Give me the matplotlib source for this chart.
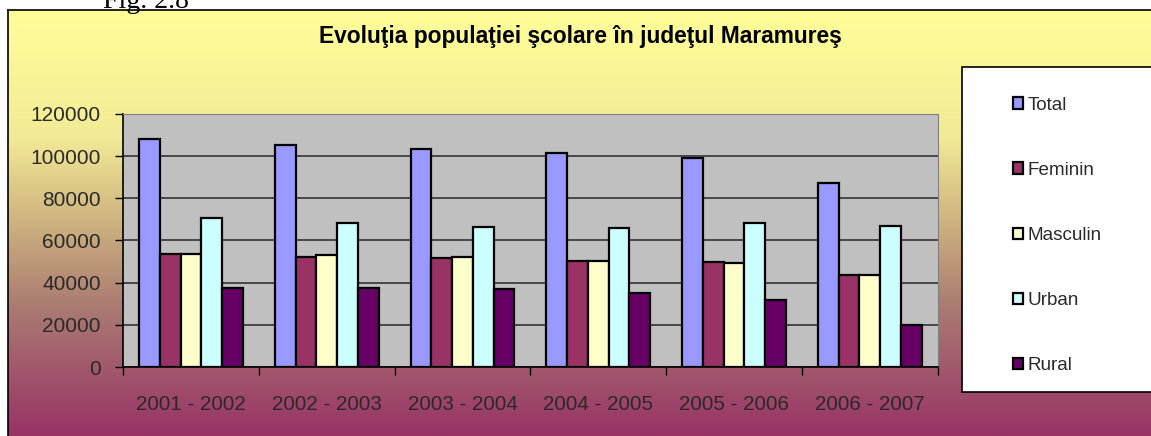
import numpy as np
import matplotlib
matplotlib.use("Agg")
import matplotlib.pyplot as plt
from matplotlib.colors import LinearSegmentedColormap
from matplotlib.patches import Rectangle

# date
ani = ['2001 - 2002', '2002 - 2003', '2003 - 2004', '2004 - 2005', '2005 - 2006', '2006 - 2007']
total = [108000, 105500, 103400, 101300, 99100, 87100]
feminin = [53700, 52200, 51600, 50300, 49600, 43700]
masculin = [53800, 52900, 52400, 50300, 49500, 43700]
urban = [70600, 68100, 66300, 65700, 68100, 67000]
rural = [37500, 37400, 36900, 35100, 31700, 19700]

serii = ['Total', 'Feminin', 'Masculin', 'Urban', 'Rural']
valori = [total, feminin, masculin, urban, rural]
culori = ['#9999FF', '#993366', '#FFFFCC', '#CCFFFF', '#660066']

plt.rcParams['font.family'] = ['Liberation Sans', 'DejaVu Sans']

W, H = 1151, 436
fig = plt.figure(figsize=(W / 100, H / 100), dpi=100)
fig.patch.set_facecolor('white')

# zona graficului cu gradient galben -> mov
bg = fig.add_axes([8 / W, 0, 1 - 8 / W, (H - 10) / H])
cmap = LinearSegmentedColormap.from_list(
    'grad', [(0, '#FFFF99'), (0.3, '#F2EA96'), (0.5, '#CDB27F'),
             (0.7, '#AA7A72'), (1, '#993366')])
grad = np.linspace(0, 1, 256).reshape(-1, 1)
bg.imshow(grad, aspect='auto', cmap=cmap, extent=[0, 1, 0, 1], origin='upper')
bg.set_xticks([])
bg.set_yticks([])
for s in ['right', 'bottom']:
    bg.spines[s].set_visible(False)
for s in ['left', 'top']:
    bg.spines[s].set_color('black')
    bg.spines[s].set_linewidth(1.2)

fig.text(103 / W, 1 - 1 / H, 'Fig. 2.8', fontsize=20, family='Liberation Serif',
         va='center', ha='left')

ax = fig.add_axes([123 / W, (H - 367) / H, (937.7 - 123) / W, (367 - 114) / H])
ax.set_facecolor('#C0C0C0')

x = np.arange(len(ani))
w = 0.153
for i, (nume, val, c) in enumerate(zip(serii, valori, culori)):
    ax.bar(x + (i - 2) * w, val, width=w, color=c, edgecolor='black',
           linewidth=1.6, label=nume, zorder=3)

ax.set_xlim(-0.5, len(ani) - 0.5)
ax.set_ylim(0, 120000)
ax.set_yticks(np.arange(0, 120001, 20000))
ax.set_yticklabels([str(v) for v in range(0, 120001, 20000)], fontsize=15, color='#2a2a2a')
ax.yaxis.grid(True, color='#333333', linewidth=1.2, zorder=1)
ax.set_axisbelow(True)

ax.set_xticks(x)
ax.set_xticklabels(ani, fontsize=14.8, color='#2a2a2a')
ax.set_xticks(np.arange(-0.5, len(ani), 1), minor=True)
ax.tick_params(axis='x', which='major', length=0, pad=20)
ax.tick_params(axis='x', which='minor', length=6, width=1, direction='out')
ax.tick_params(axis='y', length=6, width=1, direction='out', pad=10)

for s in ['top', 'right']:
    ax.spines[s].set_color('#808080')
for s in ['left', 'bottom']:
    ax.spines[s].set_color('black')
    ax.spines[s].set_linewidth(1.2)

fig.text(580 / W, 1 - 37 / H, 'Evoluţia populaţiei şcolare în judeţul Maramureş',
         fontsize=16.4, fontweight='bold', ha='center', va='center')

# chenarul legendei
fig.patches.append(Rectangle((962 / W, (H - 392) / H), 200 / W, (392 - 67) / H,
                             transform=fig.transFigure, facecolor='white',
                             edgecolor='black', linewidth=1.2, zorder=2))
leg = fig.legend(loc='upper left', bbox_to_anchor=(1005 / W, 1 - 89 / H),
                 frameon=False, fontsize=13.6, handlelength=0.55, handleheight=0.55,
                 handletextpad=0.25, labelspacing=2.55, borderaxespad=0)
leg.set_zorder(5)
for t in leg.get_texts():
    t.set_color('#2a2a2a')

fig.savefig('out.png', dpi=100)
